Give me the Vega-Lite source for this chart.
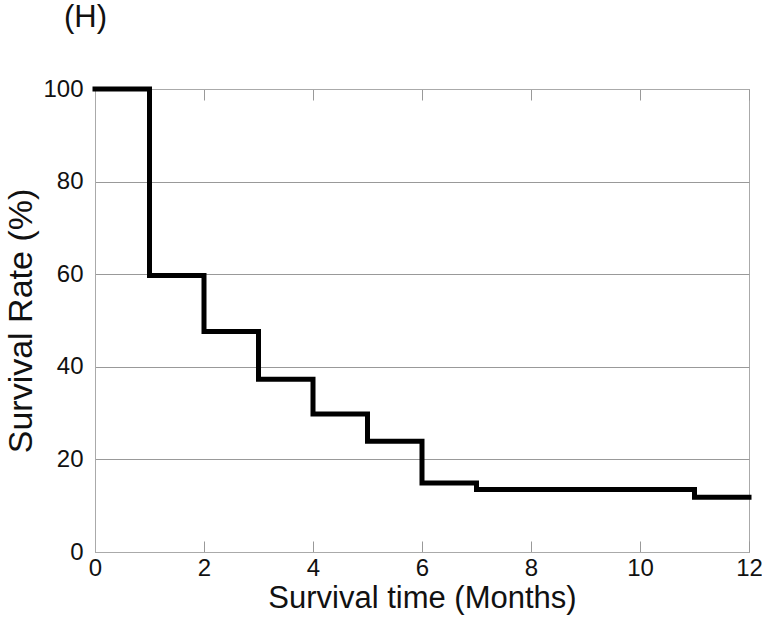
{
  "$schema": "https://vega.github.io/schema/vega-lite/v6.json",
  "width": 654,
  "height": 463,
  "autosize": "none",
  "padding": {"left": 95, "top": 89, "right": 13, "bottom": 65},
  "background": "white",
  "title": {"text": "(H)", "anchor": "start", "frame": "group", "dx": -31, "offset": 43, "fontSize": 31, "fontWeight": "normal", "font": "Liberation Sans", "color": "#111"},
  "config": {
    "font": "Liberation Sans",
    "view": {"stroke": "#aaa", "strokeWidth": 1}
  },
  "data": {"values": [
    {"t": 0, "s": 100},
    {"t": 1, "s": 59.7},
    {"t": 2, "s": 47.6},
    {"t": 3, "s": 37.3},
    {"t": 4, "s": 29.8},
    {"t": 5, "s": 23.9},
    {"t": 6, "s": 14.9},
    {"t": 7, "s": 13.5},
    {"t": 11, "s": 11.8},
    {"t": 12, "s": 11.8}
  ]},
  "layer": [
    {
      "mark": {"type": "line", "interpolate": "step-after", "color": "black", "strokeWidth": 5, "strokeCap": "square"},
      "encoding": {
        "x": {"field": "t", "type": "quantitative", "scale": {"domain": [0, 12], "nice": false},
          "axis": {"title": "Survival time (Months)", "titleFontSize": 31, "titleFontWeight": "normal", "titleColor": "#111", "titlePadding": 3,
            "values": [0, 2, 4, 6, 8, 10, 12], "labelFontSize": 24, "labelColor": "#111", "labelPadding": 15,
            "tickSize": -11, "tickColor": "#999", "domainColor": "#aaa", "grid": false, "labelFlush": false}},
        "y": {"field": "s", "type": "quantitative", "scale": {"domain": [0, 100], "nice": false},
          "axis": {"title": "Survival Rate (%)", "titleFontSize": 34, "titleFontWeight": "normal", "titleColor": "#111", "titlePadding": 4,
            "values": [0, 20, 40, 60, 80, 100], "labelFontSize": 24, "labelColor": "#111", "labelPadding": 12,
            "tickSize": 0, "domainColor": "#aaa", "grid": true, "gridColor": "#999", "gridWidth": 1, "labelFlush": false}}
      }
    },
    {
      "mark": {"type": "line", "opacity": 0},
      "encoding": {
        "x": {"field": "t", "type": "quantitative",
          "axis": {"orient": "top", "title": null, "labels": false, "values": [0, 2, 4, 6, 8, 10, 12], "tickSize": -11, "tickColor": "#999", "domainColor": "#aaa", "grid": false}},
        "y": {"field": "s", "type": "quantitative", "axis": null}
      }
    }
  ],
  "resolve": {"axis": {"x": "independent", "y": "independent"}}
}
